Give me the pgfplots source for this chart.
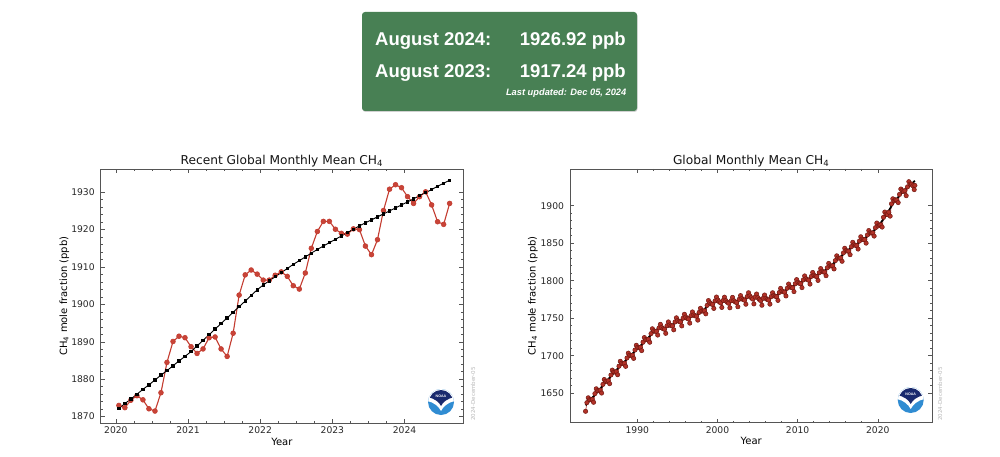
\documentclass[border=0pt]{standalone}
\usepackage{fontspec}
\setmainfont{DejaVu Sans}
\newfontfamily\bannerfont{Liberation Sans}
\usepackage{pgfplots}
\usepackage{pgfplotstable}
\pgfplotsset{compat=1.18}

\definecolor{bannergreen}{RGB}{72,128,84}
\definecolor{spinec}{RGB}{85,85,85}
\definecolor{tickc}{RGB}{40,40,40}
\definecolor{labc}{RGB}{40,40,40}
\definecolor{titc}{RGB}{20,20,20}
\definecolor{redl}{RGB}{196,60,48}
\definecolor{redm}{RGB}{200,68,56}
\definecolor{redf}{RGB}{178,50,40}
\definecolor{rede}{RGB}{115,25,18}
\definecolor{noaadark}{RGB}{26,42,110}
\definecolor{noaalight}{RGB}{48,140,210}
\definecolor{dategray}{RGB}{185,185,185}

\pgfplotstableread{
x y
2020.042 1873.0
2020.125 1872.4
2020.208 1874.4
2020.292 1875.6
2020.375 1874.5
2020.458 1872.1
2020.542 1871.5
2020.625 1876.4
2020.708 1884.5
2020.792 1890.1
2020.875 1891.5
2020.958 1891.1
2021.042 1888.7
2021.125 1886.9
2021.208 1888.1
2021.292 1891.1
2021.375 1891.3
2021.458 1888.1
2021.542 1886.1
2021.625 1892.3
2021.708 1902.5
2021.792 1907.9
2021.875 1909.2
2021.958 1908.1
2022.042 1906.5
2022.125 1906.5
2022.208 1907.8
2022.292 1908.7
2022.375 1907.5
2022.458 1905.0
2022.542 1904.1
2022.625 1908.4
2022.708 1915.0
2022.792 1919.5
2022.875 1922.2
2022.958 1922.2
2023.042 1920.1
2023.125 1919.0
2023.208 1918.8
2023.292 1920.2
2023.375 1920.0
2023.458 1915.6
2023.542 1913.3
2023.625 1917.3
2023.708 1925.1
2023.792 1930.8
2023.875 1932.0
2023.958 1931.2
2024.042 1928.8
2024.125 1927.0
2024.208 1928.8
2024.292 1930.1
2024.375 1926.6
2024.458 1922.1
2024.542 1921.4
2024.625 1927.0
}\recentmonthly

\pgfplotstableread{
x y
2020.042 1872.2
2020.125 1873.5
2020.208 1874.7
2020.292 1876.0
2020.375 1877.3
2020.458 1878.5
2020.542 1879.8
2020.625 1881.1
2020.708 1882.3
2020.792 1883.6
2020.875 1884.9
2020.958 1886.1
2021.042 1887.4
2021.125 1888.9
2021.208 1890.4
2021.292 1891.9
2021.375 1893.4
2021.458 1894.9
2021.542 1896.4
2021.625 1897.9
2021.708 1899.4
2021.792 1900.9
2021.875 1902.4
2021.958 1903.9
2022.042 1905.2
2022.125 1906.3
2022.208 1907.4
2022.292 1908.5
2022.375 1909.6
2022.458 1910.7
2022.542 1911.7
2022.625 1912.7
2022.708 1913.7
2022.792 1914.7
2022.875 1915.6
2022.958 1916.5
2023.042 1917.4
2023.125 1918.3
2023.208 1919.2
2023.292 1920.1
2023.375 1921.0
2023.458 1921.8
2023.542 1922.6
2023.625 1923.4
2023.708 1924.2
2023.792 1925.0
2023.875 1925.8
2023.958 1926.6
2024.042 1927.4
2024.125 1928.2
2024.208 1929.1
2024.292 1929.9
2024.375 1930.7
2024.458 1931.6
2024.542 1932.4
2024.625 1933.2
}\recenttrend

\pgfplotstableread{
x y
1983.542 1626.0
1983.708 1637.5
1983.875 1644.0
1984.042 1641.5
1984.208 1641.4
1984.375 1642.0
1984.542 1638.0
1984.708 1649.5
1984.875 1656.0
1985.042 1653.5
1985.208 1653.5
1985.375 1654.2
1985.542 1650.3
1985.708 1661.9
1985.875 1668.4
1986.042 1666.0
1986.208 1666.0
1986.375 1666.7
1986.542 1662.8
1986.708 1674.4
1986.875 1680.9
1987.042 1678.5
1987.208 1678.3
1987.375 1678.8
1987.542 1674.7
1987.708 1686.1
1987.875 1692.6
1988.042 1690.0
1988.208 1689.6
1988.375 1690.1
1988.542 1685.9
1988.708 1697.1
1988.875 1703.5
1989.042 1700.7
1989.208 1700.4
1989.375 1700.7
1989.542 1696.5
1989.708 1707.7
1989.875 1714.0
1990.042 1711.2
1990.208 1710.8
1990.375 1711.2
1990.542 1706.9
1990.708 1718.1
1990.875 1724.3
1991.042 1721.6
1991.208 1721.5
1991.375 1722.1
1991.542 1718.0
1991.708 1729.5
1991.875 1736.0
1992.042 1733.3
1992.208 1732.6
1992.375 1732.5
1992.542 1727.6
1992.708 1737.2
1992.875 1741.9
1993.042 1737.6
1993.208 1736.1
1993.375 1735.3
1993.542 1729.9
1993.708 1740.0
1993.875 1745.1
1994.042 1741.2
1994.208 1740.1
1994.375 1739.7
1994.542 1734.6
1994.708 1745.1
1994.875 1750.6
1995.042 1747.0
1995.208 1745.7
1995.375 1745.0
1995.542 1739.8
1995.708 1750.1
1995.875 1755.3
1996.042 1751.5
1996.208 1749.9
1996.375 1749.0
1996.542 1743.5
1996.708 1753.5
1996.875 1758.4
1997.042 1754.5
1997.208 1753.2
1997.375 1752.7
1997.542 1747.5
1997.708 1757.8
1997.875 1763.2
1998.042 1759.8
1998.208 1759.5
1998.375 1760.0
1998.542 1755.9
1998.708 1767.2
1998.875 1773.6
1999.042 1770.7
1999.208 1769.2
1999.375 1768.4
1999.542 1763.1
1999.708 1773.2
1999.875 1778.3
2000.042 1774.3
2000.208 1772.0
2000.375 1770.5
2000.542 1764.4
2000.708 1773.7
2000.875 1778.1
2001.042 1773.5
2001.208 1771.4
2001.375 1770.0
2001.542 1763.9
2001.708 1773.4
2001.875 1777.8
2002.042 1773.4
2002.208 1771.8
2002.375 1770.9
2002.542 1765.3
2002.708 1775.3
2002.875 1780.2
2003.042 1776.3
2003.208 1774.8
2003.375 1774.1
2003.542 1768.7
2003.708 1778.9
2003.875 1784.0
2004.042 1779.9
2004.208 1777.4
2004.375 1775.6
2004.542 1769.1
2004.708 1778.2
2004.875 1782.3
2005.042 1777.5
2005.208 1775.2
2005.375 1773.6
2005.542 1767.3
2005.708 1776.7
2005.875 1781.0
2006.042 1776.5
2006.208 1775.0
2006.375 1774.2
2006.542 1768.8
2006.708 1778.9
2006.875 1784.0
2007.042 1780.3
2007.208 1779.2
2007.375 1778.8
2007.542 1773.8
2007.708 1784.3
2007.875 1789.8
2008.042 1786.3
2008.208 1785.2
2008.375 1784.7
2008.542 1779.7
2008.708 1790.1
2008.875 1795.6
2009.042 1792.0
2009.208 1790.9
2009.375 1790.5
2009.542 1785.5
2009.708 1796.0
2009.875 1801.5
2010.042 1797.9
2010.208 1796.6
2010.375 1796.0
2010.542 1790.8
2010.708 1801.1
2010.875 1806.4
2011.042 1802.7
2011.208 1801.4
2011.375 1800.7
2011.542 1795.5
2011.708 1805.8
2011.875 1811.0
2012.042 1807.3
2012.208 1806.1
2012.375 1805.6
2012.542 1800.4
2012.708 1810.8
2012.875 1816.2
2013.042 1812.6
2013.208 1811.7
2013.375 1811.5
2013.542 1806.7
2013.708 1817.4
2013.875 1823.1
2014.042 1819.9
2014.208 1819.6
2014.375 1819.9
2014.542 1815.7
2014.708 1826.9
2014.875 1833.2
2015.042 1830.4
2015.208 1830.0
2015.375 1830.3
2015.542 1825.9
2015.708 1837.1
2015.875 1843.3
2016.042 1840.3
2016.208 1839.5
2016.375 1839.4
2016.542 1834.7
2016.708 1845.5
2016.875 1851.2
2017.042 1848.0
2017.208 1847.1
2017.375 1846.9
2017.542 1842.2
2017.708 1852.9
2017.875 1858.6
2018.042 1855.4
2018.208 1854.7
2018.375 1854.7
2018.542 1850.1
2018.708 1861.0
2018.875 1866.9
2019.042 1863.9
2019.208 1863.5
2019.375 1863.8
2019.542 1859.5
2019.708 1870.7
2019.875 1876.9
2020.042 1873.0
2020.208 1874.4
2020.375 1874.5
2020.542 1871.5
2020.708 1884.5
2020.875 1891.5
2021.042 1888.7
2021.208 1888.1
2021.375 1891.3
2021.542 1886.1
2021.708 1902.5
2021.875 1909.2
2022.042 1906.5
2022.208 1907.8
2022.375 1907.5
2022.542 1904.1
2022.708 1915.0
2022.875 1922.2
2023.042 1920.1
2023.208 1918.8
2023.375 1920.0
2023.542 1913.3
2023.708 1925.1
2023.875 1932.0
2024.042 1928.8
2024.208 1928.8
2024.375 1926.6
2024.542 1921.4
2024.625 1927.0
}\fullmonthly

\pgfplotstableread{
x y
1983.542 1634.0
1984.0 1639.5
1985.0 1651.5
1986.0 1664.0
1987.0 1676.5
1988.0 1688.0
1989.0 1698.8
1990.0 1709.3
1991.0 1719.6
1992.0 1731.5
1992.5 1735.5
1993.0 1736.0
1994.0 1739.5
1995.0 1745.3
1996.0 1749.9
1997.0 1752.8
1998.0 1757.8
1999.0 1769.0
2000.0 1772.8
2001.0 1772.0
2002.0 1771.8
2003.0 1774.6
2004.0 1778.5
2005.0 1776.0
2006.0 1774.8
2007.0 1778.5
2008.0 1784.6
2009.0 1790.3
2010.0 1796.2
2011.0 1801.0
2012.0 1805.6
2013.0 1810.8
2014.0 1818.0
2015.0 1828.5
2016.0 1838.5
2017.0 1846.2
2018.0 1853.5
2019.0 1862.0
2020.0 1871.6
2021.0 1886.7
2022.0 1904.6
2023.0 1916.9
2024.0 1927.0
2024.625 1933.2
}\fulltrend

\pgfplotsset{
  noaaax/.style={
    scale only axis, width=362.3pt, height=254pt, anchor=south west,
    axis line style={draw=spinec, line width=0.8pt},
    tick style={draw=spinec, line width=0.6pt},
    major tick length=4pt, minor tick length=2pt,
    tick align=inside, tick pos=both,
    ticklabel style={font=\fontsize{9.2}{10}\selectfont, text=tickc},
    /pgf/number format/assume math mode=true,
    /pgf/number format/1000 sep={},
    yticklabel style={xshift=-2.5pt},
    xlabel={Year},
    ylabel={CH\textsubscript{4} mole fraction (ppb)},
    label style={font=\fontsize{10.3}{12}\selectfont, text=labc},
    every axis x label/.style={at={(axis description cs:0.5,0)}, anchor=base, yshift=-22pt},
    every axis title/.style={at={(axis description cs:0.5,1)}, anchor=base, yshift=4.7pt, font=\fontsize{12.2}{14}\selectfont, text=titc},
  }
}

\newcommand{\noaalogo}[2]{%
  \begin{scope}[shift={(#1,#2)}]
    \fill[noaalight] (0,0) circle (13);
    \begin{scope}
      \clip (0,0) circle (13);
      \fill[white] (-14,14) -- (-14,1) .. controls (-7,0) and (-2,-5) .. (0,-9) .. controls (2,-5) and (7,0) .. (14,1) -- (14,14) -- cycle;
    \end{scope}
    \begin{scope}
      \clip (0,0) circle (12);
      \fill[noaadark] (-14,14) -- (-14,5) .. controls (-6,3.5) and (-2,0) .. (0,-4) .. controls (2,0) and (6,3.5) .. (14,5) -- (14,14) -- cycle;
    \end{scope}
    \node[white, inner sep=0, font=\bannerfont\bfseries\fontsize{3.6}{4}\selectfont] at (0,5.5) {NOAA};
  \end{scope}%
}

\begin{document}
\begin{tikzpicture}[x=1pt,y=1pt]
\fill[white] (0,0) rectangle (1000,456);
\useasboundingbox (0,0) rectangle (1000,456);

% banner
\fill[black!18, rounded corners=3pt] (362.5,344) rectangle (637.5,443);
\fill[bannergreen, rounded corners=3pt] (362,345) rectangle (637,444);
\node[anchor=base west, inner sep=0, text=white, font=\bannerfont\bfseries\fontsize{18.5}{20}\selectfont] at (375,410) {August 2024:};
\node[anchor=base east, inner sep=0, text=white, font=\bannerfont\bfseries\fontsize{18.5}{20}\selectfont] at (626,410) {1926.92 ppb};
\node[anchor=base west, inner sep=0, text=white, font=\bannerfont\bfseries\fontsize{18.5}{20}\selectfont] at (375,378.3) {August 2023:};
\node[anchor=base east, inner sep=0, text=white, font=\bannerfont\bfseries\fontsize{18.5}{20}\selectfont] at (626,378.3) {1917.24 ppb};
\node[anchor=base east, inner sep=0, text=white, font=\bannerfont\bfseries\itshape\fontsize{9.3}{10}\selectfont] at (626.5,360) {Last updated: Dec 05, 2024};

% left chart
\begin{axis}[noaaax, at={(100.7pt,33pt)},
  title={Recent Global Monthly Mean CH\textsubscript{4}},
  xmin=2019.79, xmax=2024.81, ymin=1868.3, ymax=1936.2,
  xtick={2020,2021,2022,2023,2024}, minor x tick num=3,
  ytick={1870,1880,1890,1900,1910,1920,1930}, minor y tick num=4,
  every axis y label/.style={at={(axis description cs:-0.093,0.5)}, rotate=90, anchor=base},
]
\addplot[color=redl, line width=1.1pt, mark=*, mark size=2.4pt, mark options={fill=redm, draw=redl, line width=0.6pt}] table[x=x,y=y] {\recentmonthly};
\addplot[color=black, line width=0.9pt, mark=square*, mark size=1.2pt] table[x=x,y=y] {\recenttrend};
\end{axis}

% right chart
\begin{axis}[noaaax, at={(570pt,33.3pt)}, height=253.7pt,
  title={Global Monthly Mean CH\textsubscript{4}},
  xmin=1981.6, xmax=2026.8, ymin=1610.8, ymax=1948.9,
  xtick={1990,2000,2010,2020}, minor x tick num=4,
  ytick={1650,1700,1750,1800,1850,1900}, minor y tick num=4,
  every axis y label/.style={at={(axis description cs:-0.0952,0.5)}, rotate=90, anchor=base},
]
\addplot[color=redf, line width=0.6pt, mark=*, mark size=2.2pt, mark options={fill=redf, draw=rede, line width=0.5pt}] table[x=x,y=y] {\fullmonthly};
\addplot[color=black, line width=1.8pt] table[x=x,y=y] {\fulltrend};
\end{axis}

% logos and date stamps
\noaalogo{441}{54}
\noaalogo{910.7}{56}
\node[rotate=90, text=dategray, inner sep=0, font=\fontsize{5.5}{6}\selectfont] at (473,62) {2024-December-05};
\node[rotate=90, text=dategray, inner sep=0, font=\fontsize{5.5}{6}\selectfont] at (940,62) {2024-December-05};
\end{tikzpicture}
\end{document}
